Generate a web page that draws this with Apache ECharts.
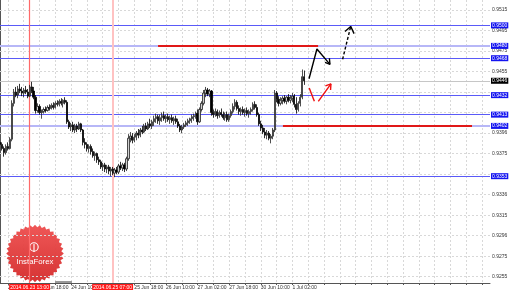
<!DOCTYPE html>
<html><head><meta charset="utf-8">
<script src="https://cdn.jsdelivr.net/npm/echarts@6/dist/echarts.min.js"></script>
<style>html,body{margin:0;padding:0;background:#fff}#c{width:510px;height:291px}</style>
</head><body><div id="c"></div>
<script>
// ---------- DATA ----------
const startTime = '2014-06-20T22:00:00Z'; // first H1 bar
const barCount = 249;                     // bars incl. empty future space
// candles: [open, close, low, high]
const candles = [
[0.9386,0.9384,0.9382,0.9390],[0.9384,0.9380,0.9378,0.9386],[0.9380,0.9376,0.9372,0.9382],[0.9376,0.9382,0.9374,0.9384],
[0.9382,0.9380,0.9378,0.9386],[0.9380,0.9389,0.9379,0.9391],[0.9389,0.9424,0.9387,0.9427],[0.9424,0.9435,0.9421,0.9438],
[0.9435,0.9432,0.9430,0.9440],[0.9432,0.9438,0.9429,0.9441],[0.9438,0.9436,0.9434,0.9443],[0.9436,0.9434,0.9431,0.9440],
[0.9434,0.9437,0.9430,0.9439],[0.9437,0.9435,0.9433,0.9441],[0.9435,0.9431,0.9429,0.9438],[0.9431,0.9440,0.9430,0.9442],
[0.9440,0.9436,0.9434,0.9445],[0.9436,0.9430,0.9428,0.9440],[0.9430,0.9417,0.9414,0.9432],[0.9417,0.9421,0.9415,0.9424],
[0.9421,0.9415,0.9413,0.9423],[0.9415,0.9416,0.9409,0.9418],[0.9416,0.9418,0.9414,0.9420],[0.9418,0.9417,0.9415,0.9421],
[0.9417,0.9420,0.9416,0.9422],[0.9420,0.9419,0.9417,0.9423],[0.9419,0.9422,0.9418,0.9424],[0.9422,0.9420,0.9418,0.9425],
[0.9420,0.9424,0.9419,0.9426],[0.9424,0.9423,0.9421,0.9427],[0.9423,0.9426,0.9421,0.9428],[0.9426,0.9424,0.9422,0.9429],
[0.9424,0.9427,0.9420,0.9428],[0.9427,0.9425,0.9423,0.9430],[0.9425,0.9406,0.9404,0.9427],[0.9406,0.9401,0.9399,0.9408],
[0.9401,0.9403,0.9397,0.9405],[0.9403,0.9398,0.9396,0.9406],[0.9398,0.9402,0.9395,0.9404],[0.9402,0.9399,0.9396,0.9404],
[0.9399,0.9404,0.9398,0.9406],[0.9404,0.9398,0.9396,0.9405],[0.9398,0.9386,0.9383,0.9399],[0.9386,0.9384,0.9380,0.9390],
[0.9384,0.9380,0.9377,0.9386],[0.9380,0.9382,0.9376,0.9384],[0.9382,0.9377,0.9374,0.9384],[0.9377,0.9373,0.9371,0.9380],
[0.9373,0.9375,0.9368,0.9377],[0.9375,0.9369,0.9366,0.9376],[0.9369,0.9367,0.9364,0.9372],[0.9367,0.9362,0.9360,0.9369],
[0.9362,0.9364,0.9358,0.9366],[0.9364,0.9360,0.9357,0.9366],[0.9360,0.9362,0.9356,0.9364],[0.9362,0.9358,0.9355,0.9364],
[0.9358,0.9360,0.9353,0.9362],[0.9360,0.9356,0.9354,0.9362],[0.9356,0.9359,0.9352,0.9361],[0.9359,0.9357,0.9355,0.9362],
[0.9357,0.9363,0.9355,0.9365],[0.9363,0.9361,0.9359,0.9367],[0.9361,0.9364,0.9358,0.9366],[0.9364,0.9360,0.9357,0.9366],
[0.9360,0.9370,0.9358,0.9372],[0.9370,0.9390,0.9368,0.9394],[0.9390,0.9392,0.9386,0.9396],[0.9392,0.9388,0.9385,0.9395],
[0.9388,0.9391,0.9386,0.9394],[0.9391,0.9395,0.9388,0.9397],[0.9395,0.9393,0.9390,0.9399],[0.9393,0.9398,0.9391,0.9400],
[0.9398,0.9396,0.9394,0.9402],[0.9396,0.9402,0.9395,0.9404],[0.9402,0.9399,0.9397,0.9405],[0.9399,0.9404,0.9398,0.9406],
[0.9404,0.9402,0.9400,0.9409],[0.9402,0.9406,0.9399,0.9408],[0.9406,0.9409,0.9402,0.9412],[0.9409,0.9411,0.9405,0.9414],
[0.9411,0.9407,0.9404,0.9413],[0.9407,0.9410,0.9403,0.9413],[0.9410,0.9412,0.9406,0.9415],[0.9412,0.9409,0.9407,0.9416],
[0.9409,0.9411,0.9405,0.9413],[0.9411,0.9408,0.9406,0.9414],[0.9408,0.9410,0.9404,0.9412],[0.9410,0.9407,0.9405,0.9413],
[0.9407,0.9409,0.9403,0.9411],[0.9409,0.9406,0.9404,0.9412],[0.9406,0.9402,0.9400,0.9409],[0.9402,0.9398,0.9396,0.9404],
[0.9398,0.9401,0.9395,0.9403],[0.9401,0.9403,0.9399,0.9405],[0.9403,0.9405,0.9401,0.9407],[0.9405,0.9407,0.9402,0.9409],
[0.9407,0.9409,0.9404,0.9410],[0.9409,0.9411,0.9405,0.9413],[0.9411,0.9412,0.9407,0.9414],[0.9412,0.9414,0.9409,0.9416],
[0.9414,0.9406,0.9403,0.9418],[0.9406,0.9418,0.9405,0.9420],[0.9418,0.9424,0.9416,0.9426],[0.9424,0.9434,0.9422,0.9437],
[0.9434,0.9437,0.9430,0.9440],[0.9437,0.9433,0.9431,0.9439],[0.9433,0.9436,0.9430,0.9438],[0.9436,0.9415,0.9412,0.9437],
[0.9415,0.9413,0.9410,0.9418],[0.9413,0.9416,0.9411,0.9419],[0.9416,0.9412,0.9409,0.9418],[0.9412,0.9415,0.9410,0.9417],
[0.9415,0.9413,0.9411,0.9419],[0.9413,0.9410,0.9408,0.9416],[0.9410,0.9413,0.9407,0.9415],[0.9413,0.9408,0.9406,0.9416],
[0.9408,0.9412,0.9406,0.9414],[0.9412,0.9416,0.9410,0.9418],[0.9416,0.9421,0.9414,0.9424],[0.9421,0.9425,0.9418,0.9428],
[0.9425,0.9419,0.9417,0.9427],[0.9419,0.9416,0.9413,0.9422],[0.9416,0.9418,0.9412,0.9420],[0.9418,0.9415,0.9413,0.9421],
[0.9415,0.9417,0.9411,0.9419],[0.9417,0.9414,0.9412,0.9420],[0.9414,0.9416,0.9410,0.9418],[0.9416,0.9418,0.9413,0.9420],
[0.9418,0.9423,0.9416,0.9425],[0.9423,0.9420,0.9418,0.9426],[0.9420,0.9413,0.9411,0.9423],[0.9413,0.9404,0.9402,0.9415],
[0.9404,0.9400,0.9397,0.9407],[0.9400,0.9396,0.9394,0.9403],[0.9396,0.9393,0.9390,0.9400],[0.9393,0.9395,0.9389,0.9398],
[0.9395,0.9390,0.9388,0.9397],[0.9390,0.9392,0.9385,0.9394],[0.9392,0.9398,0.9389,0.9400],[0.9398,0.9434,0.9396,0.9437],
[0.9434,0.9428,0.9425,0.9436],[0.9428,0.9424,0.9421,0.9431],[0.9424,0.9427,0.9422,0.9430],[0.9427,0.9429,0.9423,0.9431],
[0.9429,0.9426,0.9424,0.9432],[0.9426,0.9430,0.9423,0.9431],[0.9430,0.9427,0.9425,0.9433],[0.9427,0.9429,0.9424,0.9432],
[0.9429,0.9431,0.9425,0.9434],[0.9431,0.9423,0.9420,0.9433],[0.9423,0.9418,0.9414,0.9430],[0.9418,0.9424,0.9416,0.9426],
[0.9424,0.9430,0.9421,0.9433],[0.9430,0.9450,0.9428,0.9457],[0.9450,0.9446,0.9442,0.9456]
];
const yMin = 0.924886, yMax = 0.952475;
const tickValues = [0.9515,0.9495,0.9475,0.9455,0.9435,0.9415,0.9395,0.9375,0.9355,0.9335,0.9315,0.9295,0.9275,0.9255];
// labels hidden under the price boxes in the original are left empty
const tickLabels = ['0.9515','0.9495','0.9475','0.9455','','','0.9396','0.9375','','0.9336','0.9315','0.9296','0.9275','0.9255'];
const blueLevels = [0.9500, 0.9468, 0.9432, 0.9413, 0.9353];
const zoneLevels = [0.9480, 0.9402];
const bidPrice = 0.9446;
const redSegments = [[[80,0.9480],[161,0.9480]], [[143.2,0.9402],[238.9,0.9402]]];
const markerTimes = ['2014.06.23 13:00', '2014.06.25 07:00'];
// annotation arrows in [bar index, price]
const blackArrowPath = [[156.4,0.9448],[160.4,0.9477],[167.0,0.9462]];
const blackArrowHead = [[164.5,0.9464],[167.0,0.9462],[166.7,0.9468]];
const dashArrowPath  = [[173.4,0.9467],[177.5,0.9499]];
const dashArrowHead  = [[174.6,0.9494],[177.5,0.9499],[179.2,0.9492]];
const redStroke1     = [[156.5,0.9439],[159.1,0.9426]];
const redStroke2     = [[161.1,0.9426],[167.5,0.9443]];
const redArrowHead   = [[164.7,0.9441],[167.5,0.9443],[167.3,0.9437]];
const monthNames = ['Jan','Feb','Mar','Apr','May','Jun','Jul','Aug','Sep','Oct','Nov','Dec'];

// ---------- categories (H1 bars, weekends skipped) ----------
const categories = [];
(function(){
  let t = Date.parse(startTime);
  const p = n => (n < 10 ? '0' : '') + n;
  while (categories.length < barCount) {
    const d = new Date(t); const wd = d.getUTCDay();
    if (wd !== 0 && wd !== 6) categories.push(d.getUTCFullYear() + '.' + p(d.getUTCMonth()+1) + '.' + p(d.getUTCDate()) + ' ' + p(d.getUTCHours()) + ':00');
    t += 3600000;
  }
})();
const lastBar = candles.length - 1;
const FONT = 'Liberation Sans';
const X0 = 0, X1 = barCount - 1;

function lineSeries(data, color, width, type, z) {
  return { type:'line', xAxisIndex:1, yAxisIndex:0, data:data, symbol:'none', silent:true, z:z||8,
    lineStyle:{color:color, width:width, type:type||'solid'}, animation:false };
}
const boxLabel = (bg, txt) => ({ show:true, position:'end', distance:1, fontSize:5, fontFamily:FONT, color:'#fff',
  backgroundColor:bg, padding:[1,1,0,1], formatter: txt });
const hLine = (v, label) => [{coord:[X0, v], label:label}, {coord:[X1, v]}];

// badge gear points
const gear = [];
for (let k = 0; k < 72; k++) { const a = k * Math.PI / 36; const r = (k % 2) ? 26.4 : 28.8; gear.push([35 + r*Math.cos(a), 253.5 + r*Math.sin(a)]); }

const chart = echarts.init(document.getElementById('c'), null, {renderer:'canvas'});
chart.setOption({
  animation:false,
  backgroundColor:'#ffffff',
  grid:{left:0, right:20, top:0, bottom:8, containLabel:false},
  xAxis:[{
    type:'category', data:categories, boundaryGap:false,
    axisLine:{show:true, lineStyle:{color:'#555', width:1}},
    axisTick:{show:true, length:2, interval:(i)=> (i-4)%8===0, lineStyle:{color:'#555'}},
    splitLine:{show:true, interval:(i)=> (i-4)%8===0, lineStyle:{color:'#d8d8d8', type:[2,2], width:1}},
    axisLabel:{show:true, interval:(i)=> i<=lastBar && (i-4)%16===0, align:'left', margin:2, fontSize:5, fontFamily:FONT, color:'#333',
      formatter:(v)=> (+v.slice(8,10)) + ' ' + monthNames[+v.slice(5,7)-1] + ' ' + v.slice(11)}
  },{
    type:'value', min:X0, max:X1, show:false
  }],
  yAxis:[{
    type:'value', min:yMin, max:yMax, position:'right', scale:true,
    axisLine:{show:true, lineStyle:{color:'#555', width:1}},
    axisTick:{show:false}, axisLabel:{show:false}, splitLine:{show:false}
  }],
  graphic:{elements:[
    {type:'polygon', z:3, shape:{points:gear}, style:{fill:{type:'linear',x:0,y:0,x2:0,y2:1,colorStops:[{offset:0,color:'#ee4e4e'},{offset:1,color:'#d42a2a'}]}, opacity:0.95}},
    {type:'circle', z:3, shape:{cx:34, cy:247, r:4.2}, style:{fill:'none', stroke:'#fff', lineWidth:1.1}},
    {type:'line', z:3, shape:{x1:34, y1:244, x2:34, y2:252}, style:{stroke:'#fff', lineWidth:1.1}},
    {type:'text', z:3, style:{text:'InstaForex', x:35, y:262, align:'center', verticalAlign:'middle', fill:'#fff', fontSize:7.8, fontFamily:FONT}},
    {type:'rect', z:3, shape:{x:55, y:281, width:17, height:2}, style:{fill:'#999'}}
  ]},
  series:[
    { type:'line', xAxisIndex:1, data:[], z:1, silent:true,
      markLine:{ silent:true, symbol:'none', animation:false,
        lineStyle:{color:'#d8d8d8', type:[2,2], width:1},
        data: tickValues.map((v,k)=>hLine(v, {show:true, position:'end', distance:2, fontSize:5, fontFamily:FONT, color:'#333', formatter:tickLabels[k]})) } },
    { type:'line', xAxisIndex:1, data:[], z:4, silent:true,
      markLine:{ silent:true, symbol:'none', animation:false,
        lineStyle:{color:'#b7b7f7', width:2, type:'solid'},
        data: zoneLevels.map(v=>hLine(v, boxLabel('#1414f0', v.toFixed(4)))) } },
    { type:'line', xAxisIndex:1, data:[], z:4, silent:true,
      markLine:{ silent:true, symbol:'none', animation:false,
        lineStyle:{color:'#c6c6c6', width:1, type:'solid'},
        data: [hLine(bidPrice, boxLabel('#000000', bidPrice.toFixed(4)))] } },
    { type:'line', xAxisIndex:1, data:[], z:5, silent:true,
      markLine:{ silent:true, symbol:'none', animation:false,
        lineStyle:{color:'#5a5af8', width:1, type:'solid'},
        data: blueLevels.map(v=>hLine(v, boxLabel('#1414f0', v.toFixed(4)))) } },
    { type:'line', xAxisIndex:1, data:[], z:5, silent:true,
      markLine:{ silent:true, symbol:'none', animation:false,
        lineStyle:{color:'#e01818', width:2, type:'solid'}, label:{show:false},
        data: redSegments.map(s=>[{coord:s[0]},{coord:s[1]}]) } },
    { type:'candlestick', data:candles, z:6, barWidth:1.7, silent:true,
      itemStyle:{color:'#d0d0d0', color0:'#000000', borderColor:'#222222', borderColor0:'#000000', borderWidth:0.8} },
    { type:'line', data:[], z:7, silent:true,
      markLine:{ silent:true, symbol:'none', animation:false,
        data:[
          {xAxis:markerTimes[0], lineStyle:{color:'#ff6a6a', width:1.2, type:'solid'},
           label:{show:true, position:'start', distance:1, formatter:markerTimes[0], fontSize:5, fontFamily:FONT, color:'#fff', backgroundColor:'#ff1a1a', padding:[1,1,0,1]}},
          {xAxis:markerTimes[1], lineStyle:{color:'#ffc2c2', width:2, type:'solid'},
           label:{show:true, position:'start', distance:1, formatter:markerTimes[1], fontSize:5, fontFamily:FONT, color:'#fff', backgroundColor:'#ff1a1a', padding:[1,1,0,1]}}
        ] } },
    lineSeries(blackArrowPath, '#000', 1.4),
    lineSeries(blackArrowHead, '#000', 1.4),
    lineSeries(dashArrowPath, '#000', 1.4, [3,2]),
    lineSeries(dashArrowHead, '#000', 1.4),
    lineSeries(redStroke1, '#f01010', 1.4),
    lineSeries(redStroke2, '#f01010', 1.4),
    lineSeries(redArrowHead, '#f01010', 1.4)
  ]
});
</script></body></html>
